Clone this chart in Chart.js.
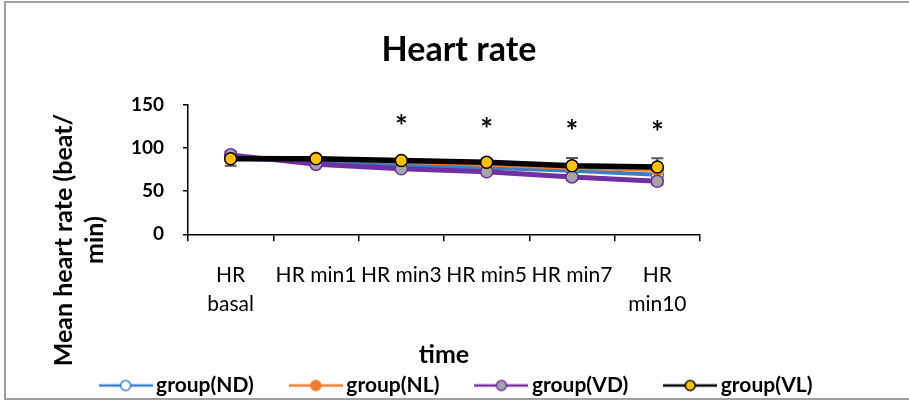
<!DOCTYPE html>
<html>
<head>
<meta charset="utf-8">
<script src="https://cdn.jsdelivr.net/npm/chart.js@4.4.1/dist/chart.umd.min.js"></script>
<style>
html,body{margin:0;padding:0;background:#fff;}
canvas{display:block;}
</style>
</head>
<body>
<canvas id="c" width="909" height="403"></canvas>
<script>
// ---- data ----
const categories = [["HR", "basal"], "HR min1", "HR min3", "HR min5", "HR min7", ["HR", "min10"]];
const seriesNames = ["group(ND)", "group(NL)", "group(VD)", "group(VL)"];
const ndValues = [88, 84, 80, 77, 73.5, 69];
const nlValues = [89, 88, 84, 80.5, 77, 74.5];
const vdValues = [92, 81, 76, 72.5, 66.5, 61.5];
const vlValues = [87.5, 87.5, 85.5, 83.5, 79.5, 78];
const ndErrors = [3, 3, 3, 3, 3, 3];
const nlErrors = [3, 3, 3, 3, 3, 3];
const vdErrors = [4, 3, 3, 3, 4, 4];
const vlErrors = [8, 3, 3, 4, 9, 10];
const sigLabels = ["", "", "*", "*", "*", "*"];
const sigValues = [null, null, 132.5, 130, 127, 126];
const yTickValues = [0, 50, 100, 150];
const yTitleLines = ["Mean heart rate (beat/", "min)"];

const FONT = "Lato, 'Open Sans', sans-serif";

const styles = [
  {line: "#3d7ec3", fill: "#ffffff", border: "#3d7ec3"},
  {line: "#ed7d31", fill: "#ed7d31", border: "#ed7d31"},
  {line: "#7030a0", fill: "#a5a5a5", border: "#7030a0"},
  {line: "#000000", fill: "#ffc000", border: "#000000"}
];

function legendImage(st) {
  const cv = document.createElement("canvas");
  cv.width = 54; cv.height = 16;
  const g = cv.getContext("2d");
  g.strokeStyle = st.line; g.lineWidth = 2.5;
  g.beginPath(); g.moveTo(0, 8); g.lineTo(54, 8); g.stroke();
  g.beginPath(); g.arc(27, 8, 5, 0, Math.PI * 2);
  g.fillStyle = st.fill; g.fill();
  g.lineWidth = 1.5; g.strokeStyle = st.border; g.stroke();
  return cv;
}

const valueSets = [ndValues, nlValues, vdValues, vlValues];
const errorSets = [ndErrors, nlErrors, vdErrors, vlErrors];
const orders = [4, 3, 2, 1];
const widths = [4, 4, 5, 5.5];

const datasets = valueSets.map((vals, i) => ({
  label: seriesNames[i],
  data: vals,
  errors: errorSets[i],
  borderColor: styles[i].line,
  backgroundColor: styles[i].fill,
  pointBackgroundColor: styles[i].fill,
  pointBorderColor: styles[i].border,
  pointBorderWidth: 1.5,
  pointRadius: 6,
  borderWidth: widths[i],
  tension: 0,
  order: orders[i]
}));

const framePlugin = {
  id: "frame",
  beforeDraw(chart) {
    const ctx = chart.ctx;
    ctx.save();
    ctx.strokeStyle = "#a0a0a0";
    ctx.lineWidth = 2;
    ctx.strokeRect(5, 2, 930, 397);
    ctx.restore();
  }
};

const errorBarPlugin = {
  id: "errorBars",
  beforeDatasetsDraw(chart) {
    const ctx = chart.ctx;
    const yS = chart.scales.y;
    ctx.save();
    ctx.strokeStyle = "#595959";
    ctx.lineWidth = 2;
    chart.data.datasets.forEach((ds, di) => {
      const meta = chart.getDatasetMeta(di);
      meta.data.forEach((pt, i) => {
        const v = ds.data[i], e = ds.errors[i];
        const yt = yS.getPixelForValue(v + e), yb = yS.getPixelForValue(v - e);
        ctx.beginPath();
        ctx.moveTo(pt.x, yt); ctx.lineTo(pt.x, yb);
        ctx.moveTo(pt.x - 6, yt); ctx.lineTo(pt.x + 6, yt);
        ctx.moveTo(pt.x - 6, yb); ctx.lineTo(pt.x + 6, yb);
        ctx.stroke();
      });
    });
    ctx.restore();
  }
};

const annotationPlugin = {
  id: "sigMarks",
  afterDraw(chart) {
    const ctx = chart.ctx;
    const xS = chart.scales.x, yS = chart.scales.y;
    ctx.save();
    // significance asterisks
    ctx.font = "bold 30px " + FONT;
    ctx.fillStyle = "#000";
    ctx.textAlign = "center";
    ctx.textBaseline = "alphabetic";
    sigLabels.forEach((s, i) => {
      if (!s || sigValues[i] == null) return;
      const m = ctx.measureText(s);
      const x = xS.getPixelForValue(i);
      const y = yS.getPixelForValue(sigValues[i]);
      ctx.fillText(s, x, y + (m.actualBoundingBoxAscent - m.actualBoundingBoxDescent) / 2);
    });
    // y axis title (two lines, rotated)
    ctx.font = "bold 25px " + FONT;
    ctx.textBaseline = "middle";
    const cy = 240;
    const xs = [64, 95];
    yTitleLines.forEach((t, k) => {
      ctx.save();
      ctx.translate(xs[k], cy);
      ctx.rotate(-Math.PI / 2);
      ctx.fillText(t, 0, 0);
      ctx.restore();
    });
    ctx.restore();
  }
};

new Chart(document.getElementById("c"), {
  type: "line",
  data: { labels: categories, datasets },
  options: {
    responsive: false,
    animation: false,
    devicePixelRatio: 1,
    layout: { padding: { left: 9, right: 0, top: 0, bottom: -3 } },
    plugins: {
      title: {
        display: true,
        text: "Heart rate",
        color: "#000",
        font: { family: FONT, size: 34, weight: "bold", lineHeight: 1.2 },
        padding: { top: 30, bottom: 34 }
      },
      legend: {
        position: "bottom",
        labels: {
          usePointStyle: true,
          pointStyleWidth: 40,
          padding: 42,
          color: "#000",
          font: { family: FONT, size: 21, weight: "bold" },
          generateLabels(chart) {
            return chart.data.datasets.map((ds, i) => ({
              text: ds.label,
              datasetIndex: i,
              pointStyle: legendImage(styles[i]),
              fontColor: "#000",
              fillStyle: styles[i].fill,
              strokeStyle: styles[i].line,
              lineWidth: 0,
              hidden: false
            }));
          }
        }
      },
      tooltip: { enabled: false }
    },
    scales: {
      x: {
        type: "category",
        offset: true,
        grid: { offset: true, drawOnChartArea: false, drawTicks: true, tickLength: 7, color: "#000", lineWidth: 1.5 },
        border: { display: true, color: "#000", width: 1.5 },
        ticks: {
          autoSkip: false, maxRotation: 0, minRotation: 0,
          padding: 20, color: "#000",
          font: { family: FONT, size: 21, lineHeight: 1.35 }
        },
        title: {
          display: true, text: "time", color: "#000",
          font: { family: FONT, size: 25, weight: "bold", lineHeight: 1.2 },
          padding: { top: 2, bottom: -37 }
        }
      },
      y: {
        min: 0, max: 150,
        afterBuildTicks(scale) { scale.ticks = yTickValues.map(v => ({ value: v })); },
        afterFit(scale) { scale.width = 179; },
        grid: { drawOnChartArea: false, drawTicks: true, tickLength: 5, color: "#000", lineWidth: 1.5 },
        border: { display: true, color: "#000", width: 1.5 },
        ticks: { padding: 19, color: "#000", font: { family: FONT, size: 19, weight: "bold" } },
        title: { display: false }
      },
      yRight: {
        type: "linear",
        position: "right",
        display: true,
        grid: { display: false, drawTicks: false },
        border: { display: false },
        ticks: { display: false },
        afterFit(scale) { scale.width = 209; }
      }
    }
  },
  plugins: [framePlugin, errorBarPlugin, annotationPlugin]
});
</script>
</body>
</html>
